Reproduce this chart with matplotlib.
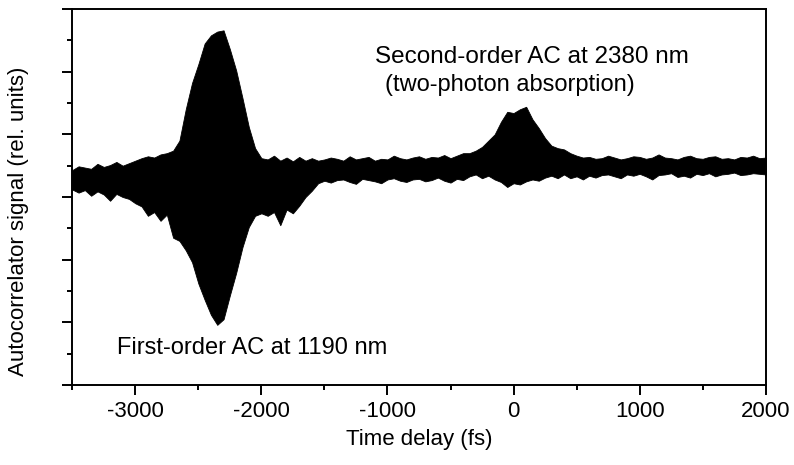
import matplotlib
matplotlib.use("Agg")
import matplotlib.pyplot as plt
from matplotlib.ticker import MultipleLocator, NullFormatter

plt.rcParams['font.family'] = ['Liberation Sans', 'DejaVu Sans']
plt.rcParams['axes.unicode_minus'] = False

# Time delay grid (fs), sampled every 50 fs
time_fs = list(range(-3500, 2001, 50))

# Upper / lower envelope of the oscillating autocorrelator trace (rel. units)
upper = [3.43, 3.49, 3.47, 3.45, 3.53, 3.48, 3.51, 3.56, 3.50, 3.54, 3.58,
         3.62, 3.65, 3.63, 3.68, 3.70, 3.74, 3.90,
         4.40, 4.82, 5.12, 5.45, 5.58, 5.64, 5.66, 5.36, 5.02, 4.58, 4.12, 3.78, 3.62,
         3.60, 3.66, 3.58, 3.63, 3.57, 3.64, 3.58, 3.62, 3.58,
         3.60, 3.63, 3.61, 3.58, 3.65, 3.60, 3.62, 3.64, 3.58, 3.61, 3.60, 3.66,
         3.62, 3.60, 3.63, 3.65, 3.61, 3.64, 3.63, 3.67, 3.62, 3.66, 3.70,
         3.70, 3.74, 3.80, 3.90, 4.00, 4.20, 4.36, 4.34, 4.40, 4.44, 4.24, 4.10,
         3.94, 3.82, 3.78, 3.76, 3.70, 3.66, 3.63,
         3.64, 3.61, 3.62, 3.66, 3.63, 3.60, 3.62, 3.65, 3.64, 3.61, 3.63, 3.68,
         3.63, 3.62, 3.60, 3.64, 3.66, 3.62, 3.61, 3.64, 3.65, 3.61, 3.62, 3.60,
         3.64, 3.63, 3.66, 3.62, 3.63]
lower = [3.12, 3.07, 3.11, 3.02, 3.09, 3.04, 2.94, 3.05, 3.00, 2.97, 2.90,
         2.85, 2.70, 2.76, 2.62, 2.72, 2.35, 2.30,
         2.15, 1.96, 1.62, 1.36, 1.12, 0.96, 1.05, 1.43, 1.79, 2.20, 2.52, 2.70, 2.74,
         2.70, 2.76, 2.55, 2.80, 2.74, 2.86, 3.00, 3.10, 3.22,
         3.26, 3.23, 3.27, 3.28, 3.24, 3.21, 3.29, 3.27, 3.25, 3.22, 3.28, 3.30,
         3.26, 3.24, 3.28, 3.29, 3.25, 3.27, 3.31, 3.26, 3.23, 3.29, 3.27,
         3.33, 3.36, 3.30, 3.34, 3.28, 3.24, 3.16, 3.22, 3.20, 3.25, 3.28, 3.26,
         3.31, 3.34, 3.30, 3.36, 3.30, 3.33, 3.28,
         3.34, 3.31, 3.35, 3.36, 3.33, 3.30, 3.36, 3.34, 3.37, 3.33, 3.28, 3.35,
         3.36, 3.38, 3.32, 3.34, 3.31, 3.37, 3.35, 3.38, 3.33, 3.36, 3.37, 3.39,
         3.35, 3.36, 3.38, 3.37, 3.36]

xlabel = "Time delay (fs)"
ylabel = "Autocorrelator signal (rel. units)"
label_first = "First-order AC at 1190 nm"
label_second_1 = "Second-order AC at 2380 nm"
label_second_2 = "(two-photon absorption)"

fig = plt.figure(figsize=(7.94, 4.65), dpi=100)
ax = fig.add_axes([0.091, 0.172, 0.8734, 0.8086])

ax.fill_between(time_fs, lower, upper, color='black', linewidth=0.6, edgecolor='black')

ax.set_xlim(-3500, 2000)
ax.set_ylim(0, 6)
ax.xaxis.set_major_locator(MultipleLocator(1000))
ax.xaxis.set_minor_locator(MultipleLocator(500))
ax.yaxis.set_major_locator(MultipleLocator(1))
ax.yaxis.set_minor_locator(MultipleLocator(0.5))
ax.yaxis.set_major_formatter(NullFormatter())
ax.tick_params(which='both', direction='out', width=1.4, top=False, right=False,
               labelsize=16, pad=4)
ax.tick_params(which='major', length=7.2)
ax.tick_params(which='minor', length=3.6)
for s in ax.spines.values():
    s.set_linewidth(1.4)

ax.set_xlabel(xlabel, fontsize=16)
ax.xaxis.set_label_coords(0.5, -0.146)
ax.xaxis.label.set_va('center')
ax.set_ylabel(ylabel, fontsize=16)
ax.yaxis.set_label_coords(-0.078, 0.436)
ax.yaxis.label.set_va('center')

ax.text(-3146, 0.59, label_first, fontsize=17, ha='left', va='center')
ax.text(-1095, 5.23, label_second_1, fontsize=17.5, ha='left', va='center')
ax.text(-1016, 4.78, label_second_2, fontsize=17, ha='left', va='center')

fig.savefig("out.png", dpi=100)
